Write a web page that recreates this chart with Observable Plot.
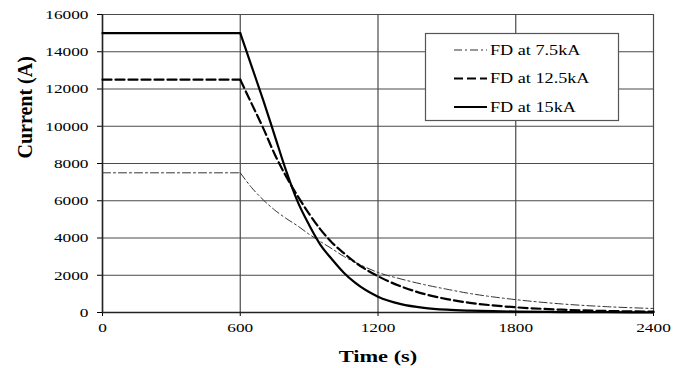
<!DOCTYPE html>
<html>
<head>
<meta charset="utf-8">
<script src="https://cdn.jsdelivr.net/npm/d3@7"></script>
<script src="https://cdn.jsdelivr.net/npm/@observablehq/plot@0.6"></script>
<style>
  html, body { margin: 0; padding: 0; background: #fff; }
  #chart { position: relative; width: 684px; height: 368px; }
</style>
</head>
<body>
<div id="chart"></div>
<script>
// Data
const times = [0, 600, 650, 700, 750, 800, 850, 900, 950, 1000, 1050, 1100, 1200, 1300, 1400, 1500, 1600, 1700, 1800, 2000, 2200, 2400];
const fd75  = [7500, 7500, 6700, 6050, 5500, 5050, 4650, 4200, 3800, 3420, 3020, 2700, 2150, 1800, 1500, 1250, 1020, 840, 690, 460, 310, 215];
const fd125 = [12500, 12500, 11200, 9900, 8500, 7300, 6250, 5300, 4450, 3750, 3200, 2700, 1950, 1400, 1000, 720, 520, 380, 280, 150, 80, 45];
const fd15  = [15000, 15000, 13200, 11400, 9500, 7600, 5950, 4700, 3620, 2850, 2150, 1600, 850, 450, 250, 150, 100, 70, 50, 25, 15, 10];
const seriesNames = ["FD at 7.5kA", "FD at 12.5kA", "FD at 15kA"];
const xTicks = [0, 600, 1200, 1800, 2400];
const yTicks = [0, 2000, 4000, 6000, 8000, 10000, 12000, 14000, 16000];

const styles = {
  "FD at 7.5kA": {stroke: "#333", strokeWidth: 1, strokeDasharray: "8,3,2,3"},
  "FD at 12.5kA": {stroke: "#000", strokeWidth: 2.2, strokeDasharray: "9,4"},
  "FD at 15kA": {stroke: "#000", strokeWidth: 2.2, strokeDasharray: null}
};

const valuesBySeries = [fd75, fd125, fd15];
const data = seriesNames.map((name, i) => times.map((t, j) => ({time: t, current: valuesBySeries[i][j], series: name})));
const onsetTime = 600;

const gridColor = "#4a4a4a";
const fontFamily = "'Liberation Serif', 'Times New Roman', serif";

const chart = Plot.plot({
  width: 684,
  height: 368,
  marginLeft: 102,
  marginRight: 31,
  marginTop: 14,
  marginBottom: 56,
  style: {fontFamily, fontSize: "13.5px", color: "#000", background: "#fff"},
  x: {domain: [0, 2400], ticks: xTicks, tickSize: 4, tickPadding: 6, label: null, tickFormat: d3.format("d")},
  y: {domain: [0, 16000], ticks: yTicks, tickSize: 5, tickPadding: 9, label: null, tickFormat: d3.format("d")},
  marks: [
    Plot.gridX(xTicks, {stroke: gridColor, strokeOpacity: 1, strokeWidth: 1.2}),
    Plot.gridY(yTicks, {stroke: gridColor, strokeOpacity: 1, strokeWidth: 1.2}),
    Plot.ruleX([0], {stroke: "#222", strokeWidth: 1.5}),
    Plot.ruleY([0], {stroke: "#222", strokeWidth: 1.5}),
    ...data.map((d, i) => Plot.line(d.filter(p => p.time <= onsetTime), {x: "time", y: "current", ...styles[seriesNames[i]]})),
    ...data.map((d, i) => Plot.line(d.filter(p => p.time >= onsetTime), {x: "time", y: "current", curve: "monotone-x", ...styles[seriesNames[i]]})),
    Plot.text(["Time (s)"], {frameAnchor: "bottom", dy: 44, fontWeight: "bold", fontSize: 16, lineAnchor: "middle", className: "xlabel"}),
    Plot.text(["Current (A)"], {frameAnchor: "left", dx: -77, dy: -5, rotate: -90, fontWeight: "bold", fontSize: 20, lineAnchor: "middle"})
  ]
});

// stretch labels horizontally to match the reference rendering
const svg = d3.select(chart);
function stretch(sel, k) {
  sel.each(function() {
    const t = this.getAttribute("transform") || "";
    if (!t.includes("scale")) this.setAttribute("transform", t + ` scale(${k},1)`);
  });
}
stretch(svg.selectAll("g[aria-label='x-axis tick label'] text, g[aria-label='y-axis tick label'] text"), 1.28);
stretch(svg.selectAll(".xlabel text, text.xlabel"), 1.4);

// Legend box inside the plot area
const lg = svg.append("g").attr("class", "legend");
lg.append("rect").attr("x", 425.5).attr("y", 33.5).attr("width", 193).attr("height", 87)
  .attr("fill", "#fff").attr("stroke", "#555").attr("stroke-width", 1.2);
const rowY = [50, 78.5, 107];
seriesNames.forEach((name, i) => {
  const s = styles[name];
  lg.append("line").attr("x1", 454).attr("x2", 487).attr("y1", rowY[i]).attr("y2", rowY[i])
    .attr("stroke", s.stroke).attr("stroke-width", s.strokeWidth)
    .attr("stroke-dasharray", s.strokeDasharray);
  lg.append("text").attr("transform", `translate(490,${rowY[i]}) scale(1.3,1)`)
    .attr("dy", "0.35em")
    .attr("text-anchor", "start")
    .attr("font-family", fontFamily)
    .attr("font-size", 14).attr("fill", "#000").text(name);
});

document.getElementById("chart").appendChild(chart);
</script>
</body>
</html>
